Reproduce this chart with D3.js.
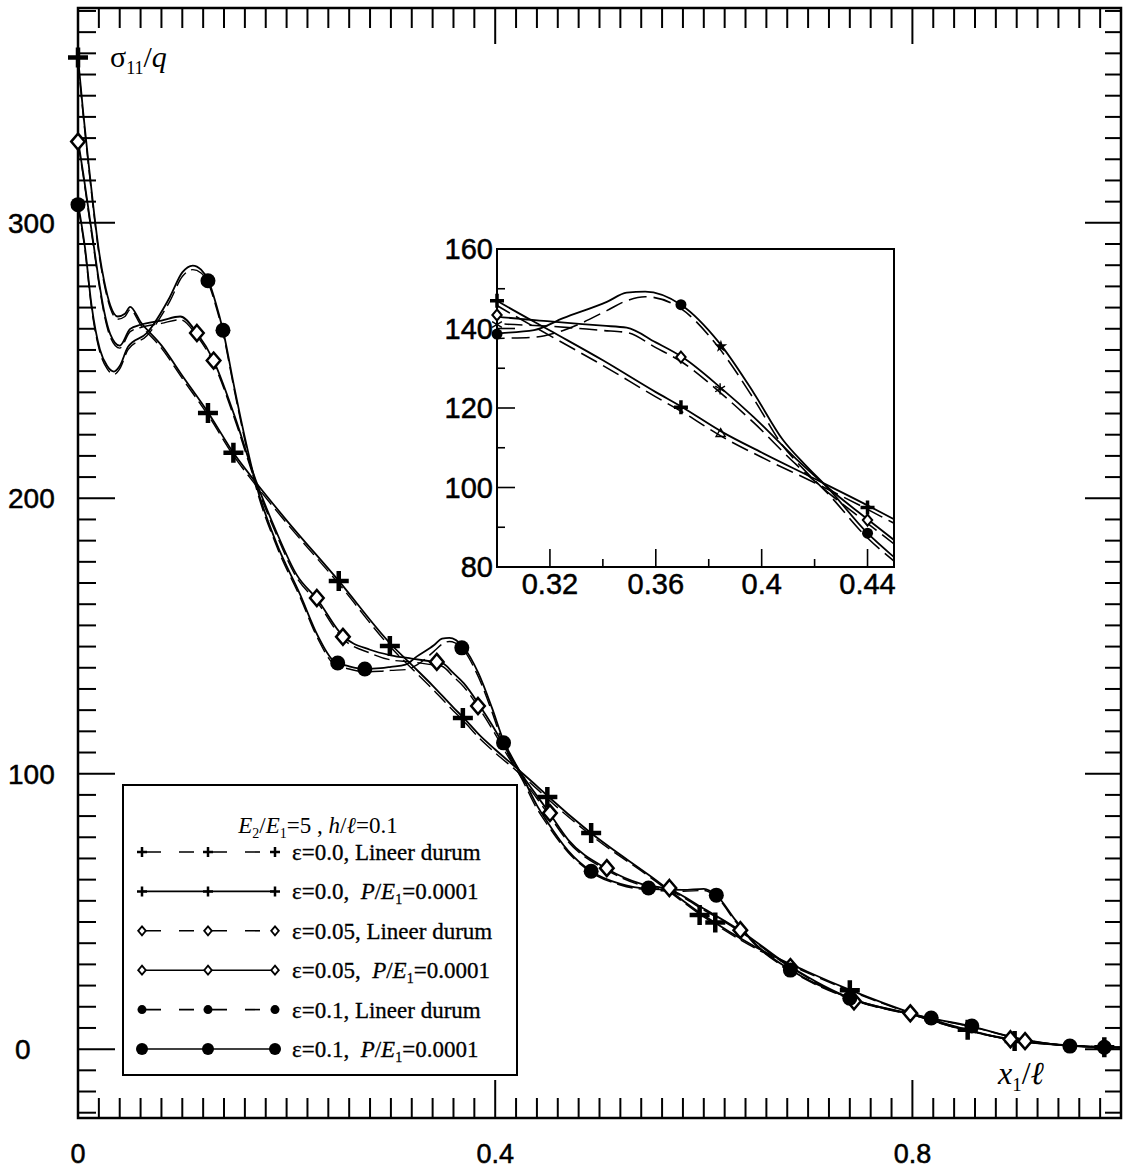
<!DOCTYPE html>
<html>
<head>
<meta charset="utf-8">
<script src="https://cdn.jsdelivr.net/npm/d3@7"></script>
<style>
  html, body { margin: 0; padding: 0; background: #fff; }
  svg { display: block; }
  text { white-space: pre; }
</style>
</head>
<body>
<svg id="chart" width="1130" height="1174"></svg>
<script>
// sigma11/q along x1/l, three eps values, linear (dashed) vs nonlinear (solid)

// ---------------------------------------------------------------
// Data
// ---------------------------------------------------------------
const eps0Nonlin = [
  [0, 360], [0.005, 340], [0.01, 322], [0.015, 305], [0.02, 290], [0.025, 279],
  [0.031, 270], [0.038, 266], [0.045, 267], [0.05, 269.5], [0.06, 264], [0.08, 255.5],
  [0.1, 244.5], [0.125, 231], [0.149, 216.5], [0.17, 206], [0.2, 192], [0.25, 170],
  [0.3, 147], [0.32, 139.5], [0.34, 132], [0.36, 124], [0.37, 120.2], [0.385, 114],
  [0.4, 108.8], [0.42, 102.2], [0.44, 95.5], [0.45, 92], [0.49, 79], [0.55, 62.5],
  [0.6, 48.5], [0.65, 37], [0.7, 28], [0.74, 21.5], [0.8, 13], [0.853, 7],
  [0.9, 3], [0.95, 1.3], [1.0, 0.6]
]
const eps0Lin = [
  [0, 359], [0.005, 339], [0.01, 321], [0.015, 304], [0.02, 289], [0.025, 278],
  [0.031, 269], [0.038, 265], [0.045, 266], [0.05, 268.5], [0.06, 263], [0.08, 254.5],
  [0.1, 243.5], [0.125, 230], [0.149, 215.5], [0.17, 205], [0.2, 191], [0.25, 169],
  [0.3, 145.8], [0.32, 138.2], [0.34, 130.7], [0.36, 122.8], [0.37, 119], [0.385, 112.8],
  [0.4, 107.6], [0.42, 101.2], [0.44, 94.5], [0.45, 91], [0.49, 78.2], [0.55, 62],
  [0.6, 48], [0.65, 36.5], [0.7, 27.6], [0.74, 21.2], [0.8, 12.8], [0.853, 6.9],
  [0.9, 3], [0.95, 1.3], [1.0, 0.6]
]
const eps05Nonlin = [
  [0, 330], [0.005, 318], [0.01, 305], [0.015, 292], [0.02, 279], [0.025, 268],
  [0.031, 259.5], [0.04, 255.4], [0.05, 261.5], [0.06, 263], [0.08, 264.5], [0.098, 266],
  [0.114, 260], [0.13, 250], [0.15, 230], [0.17, 207], [0.19, 188], [0.21, 172],
  [0.229, 163.5], [0.254, 150], [0.28, 145], [0.3, 143], [0.32, 141.8], [0.34, 140.7],
  [0.349, 140.2], [0.36, 136.5], [0.37, 132.8], [0.385, 124.8], [0.397, 117.7], [0.413, 107.2],
  [0.425, 100], [0.44, 92], [0.45, 86.8], [0.47, 76], [0.507, 65.5], [0.54, 60],
  [0.567, 58], [0.6, 51], [0.635, 43], [0.683, 30], [0.744, 18], [0.798, 12.8],
  [0.85, 7], [0.894, 3.6], [0.95, 1.4], [1.0, 0.6]
]
const eps05Lin = [
  [0, 329], [0.005, 317], [0.01, 304], [0.015, 291], [0.02, 278], [0.025, 267],
  [0.031, 258.5], [0.04, 254.5], [0.05, 260.5], [0.06, 262], [0.08, 263.5], [0.098, 264.8],
  [0.114, 259], [0.13, 249], [0.15, 229], [0.17, 206], [0.19, 187], [0.21, 171],
  [0.229, 162.5], [0.254, 149], [0.28, 143.8], [0.3, 141.3], [0.32, 140.6], [0.34, 139.5],
  [0.349, 139], [0.36, 135.2], [0.37, 131.5], [0.385, 123.5], [0.397, 116.3], [0.413, 105.8],
  [0.425, 98.8], [0.44, 91], [0.45, 85.8], [0.47, 75.3], [0.507, 65], [0.54, 59.5],
  [0.567, 57.5], [0.6, 50.5], [0.635, 42.6], [0.683, 29.7], [0.744, 17.8], [0.798, 12.6],
  [0.85, 6.9], [0.894, 3.5], [0.95, 1.4], [1.0, 0.6]
]
const eps1Nonlin = [
  [0, 307], [0.0067, 291], [0.013, 270], [0.021, 254], [0.028, 248], [0.0345, 246],
  [0.04, 248], [0.048, 255], [0.066, 260], [0.088, 273], [0.1, 282], [0.11, 284.5],
  [0.118, 283], [0.125, 279], [0.132, 271], [0.139, 261], [0.15, 240], [0.16, 222],
  [0.17, 206], [0.19, 184], [0.213, 165], [0.23, 150], [0.245, 141], [0.26, 139],
  [0.275, 138], [0.29, 138.3], [0.3, 138.8], [0.314, 139.6], [0.325, 142.6], [0.3415, 146.7],
  [0.349, 149], [0.356, 149.3], [0.3695, 146], [0.384, 136.4], [0.397, 123.8], [0.408, 112],
  [0.416, 106], [0.425, 99.9], [0.44, 88.5], [0.45, 82.5], [0.47, 72], [0.492, 64.6],
  [0.52, 60], [0.547, 58.2], [0.58, 57.8], [0.6, 58.2], [0.612, 55.9], [0.63, 47],
  [0.65, 38], [0.683, 28.8], [0.74, 18.5], [0.818, 11.2], [0.857, 8.2], [0.9, 4],
  [0.951, 1.2], [1.0, 0.6]
]
const eps1Lin = [
  [0, 306], [0.0067, 290], [0.013, 269], [0.021, 253], [0.028, 247], [0.0345, 245],
  [0.04, 247], [0.048, 254], [0.066, 259], [0.088, 271.5], [0.1, 280.5], [0.11, 283],
  [0.118, 281.8], [0.125, 278], [0.132, 270], [0.139, 260], [0.15, 239], [0.16, 221],
  [0.17, 205], [0.19, 183], [0.213, 164], [0.23, 149], [0.245, 140], [0.26, 138],
  [0.275, 137], [0.29, 137.2], [0.3, 137.5], [0.314, 137.8], [0.325, 139.5], [0.3415, 144.5],
  [0.349, 147], [0.356, 148], [0.3695, 145], [0.384, 135], [0.397, 122.3], [0.408, 110.5],
  [0.416, 104.5], [0.425, 98.5], [0.44, 87.3], [0.45, 81.5], [0.47, 71.4], [0.492, 64.2],
  [0.52, 59.6], [0.547, 57.8], [0.58, 57.3], [0.6, 57.6], [0.612, 55.3], [0.63, 46.5],
  [0.65, 37.6], [0.683, 28.5], [0.74, 18.3], [0.818, 11.1], [0.857, 8.1], [0.9, 4],
  [0.951, 1.2], [1.0, 0.6]
]

// marker positions in the main plot
const eps0Marks = [
  [0, 360], [0.1246, 231], [0.149, 216.5], [0.25, 170], [0.299, 146.4], [0.369, 120.2],
  [0.45, 91.5], [0.492, 78.5], [0.596, 48.7], [0.611, 46], [0.74, 21.4], [0.853, 7],
  [0.898, 3], [0.984, 0.7]
]
const eps05Marks = [
  [0, 329.5], [0.114, 260], [0.13, 250], [0.229, 163.8], [0.254, 149.7], [0.344, 140.6],
  [0.3835, 124.6], [0.4525, 85.7], [0.507, 65.7], [0.567, 58.5], [0.635, 43.2], [0.683, 29.8],
  [0.744, 17.4], [0.798, 13], [0.894, 3.6], [0.908, 2.9]
]
const eps1Marks = [
  [0, 306.6], [0.1246, 279], [0.139, 261], [0.249, 140.2], [0.275, 138], [0.368, 145.7],
  [0.408, 111.2], [0.492, 64.6], [0.547, 58.5], [0.612, 55.9], [0.683, 28.7], [0.74, 18.5],
  [0.818, 11.3], [0.857, 8.4], [0.951, 1.1], [0.984, 0.7]
]

// inset markers
const insetEps0Marks = [[0.3, 147], [0.3695, 120.2], [0.44, 95]]
const insetEps05Marks = [[0.3, 143.4], [0.3695, 132.8], [0.44, 91.8]]
const insetEps1Marks = [[0.3, 138.6], [0.3695, 146], [0.44, 88.5]]
const insetExtraMarks = [
  { type: 'tri', p: [0.3845, 113.5] },
  { type: 'ast', p: [0.3843, 124.8] },
  { type: 'star', p: [0.3846, 135.5] },
  { type: 'ast', p: [0.3, 141] }
]

// ticks
const xMajorTicks = [0, 0.4, 0.8]
const xMajorLabels = ['0', '0.4', '0.8']
const yMajorTicks = [0, 100, 200, 300]
const yMajorLabels = ['0', '100', '200', '300']
const insetXTicks = [0.32, 0.36, 0.4, 0.44]
const insetXLabels = ['0.32', '0.36', '0.4', '0.44']
const insetXMinor = [0.34, 0.38, 0.42]
const insetYTicks = [80, 100, 120, 140, 160]
const insetYMinor = [90, 110, 130, 150]

// legend
const legendEps = ['0.0', '0.0', '0.05', '0.05', '0.1', '0.1']
const legendLinear = [true, false, true, false, true, false]
const legendMarker = ['plus', 'plus', 'diamond', 'diamond', 'dot', 'dot']

// ---------------------------------------------------------------
// Setup
// ---------------------------------------------------------------
const SANS = '"Liberation Sans", Arial, sans-serif'
const SERIF = '"Liberation Serif", "Times New Roman", serif'

const svg = d3.select('#chart')
const x = d3.scaleLinear().domain([0, 1]).range([78, 1121])
const y = d3.scaleLinear().domain([-25, 378]).range([1118, 8])

const L = x.range()[0], R = x.range()[1]
const T = y.range()[1], B = y.range()[0]

svg.append('defs').append('clipPath').attr('id', 'mainClip')
  .append('rect').attr('x', L).attr('y', T).attr('width', R - L).attr('height', B - T)

// marker painters
function drawPlus(g, cx, cy, s, w) {
  g.append('path')
    .attr('d', `M${cx - s},${cy}H${cx + s}M${cx},${cy - s}V${cy + s}`)
    .attr('stroke', '#000').attr('stroke-width', w).attr('fill', 'none')
}
function drawDiamond(g, cx, cy, s, w) {
  g.append('path')
    .attr('d', `M${cx},${cy - s}L${cx + s * 0.85},${cy}L${cx},${cy + s}L${cx - s * 0.85},${cy}Z`)
    .attr('stroke', '#000').attr('stroke-width', w).attr('fill', '#fff')
}
function drawDot(g, cx, cy, r) {
  g.append('circle').attr('cx', cx).attr('cy', cy).attr('r', r).attr('fill', '#000')
}

// scanned text looks slightly heavy
function inked(sel, w) {
  return sel.attr('stroke', '#000').attr('stroke-width', w).attr('paint-order', 'stroke')
}

// ---------------------------------------------------------------
// Main frame and ticks
// ---------------------------------------------------------------
const gAxes = svg.append('g')

// x ticks every 0.02 (top and bottom)
d3.range(0, 51).map(i => i * 0.02).forEach(v => {
  const major = xMajorTicks.some(m => Math.abs(m - v) < 1e-9)
  const len = major ? 38 : 20
  gAxes.append('line')
    .attr('x1', x(v)).attr('x2', x(v)).attr('y1', B).attr('y2', B - len)
    .attr('stroke', '#000').attr('stroke-width', 2)
  gAxes.append('line')
    .attr('x1', x(v)).attr('x2', x(v)).attr('y1', T).attr('y2', T + (major ? 36 : 20))
    .attr('stroke', '#000').attr('stroke-width', 2)
})

// y ticks: 13 per hundred
d3.range(-3, 50).map(i => i * 100 / 13).forEach(v => {
  const major = yMajorTicks.some(m => Math.abs(m - v) < 1e-6)
  gAxes.append('line')
    .attr('x1', L).attr('x2', L + (major ? 37 : 18)).attr('y1', y(v)).attr('y2', y(v))
    .attr('stroke', '#000').attr('stroke-width', 2)
  gAxes.append('line')
    .attr('x1', R).attr('x2', R - (major ? 36 : 16)).attr('y1', y(v)).attr('y2', y(v))
    .attr('stroke', '#000').attr('stroke-width', 2)
})

gAxes.append('rect')
  .attr('x', L).attr('y', T).attr('width', R - L).attr('height', B - T)
  .attr('fill', 'none').attr('stroke', '#000').attr('stroke-width', 2.5)

// tick labels
xMajorTicks.forEach((v, i) => {
  inked(gAxes.append('text'), 0.5)
    .attr('x', x(v)).attr('y', 1163)
    .attr('text-anchor', 'middle')
    .style('font-family', SANS).style('font-size', '27px')
    .text(xMajorLabels[i])
})
yMajorTicks.forEach((v, i) => {
  inked(gAxes.append('text'), 0.5)
    .attr('x', i === 0 ? 15 : 8).attr('y', y(v) + 10)
    .style('font-family', SANS).style('font-size', '28px')
    .text(yMajorLabels[i])
})

// axis titles
const yTitle = svg.append('text').attr('x', 110).attr('y', 67)
  .style('font-family', SERIF).style('font-size', '30px')
yTitle.append('tspan').text('σ')
yTitle.append('tspan').attr('dy', 7).style('font-size', '18px').text('11')
yTitle.append('tspan').attr('dy', -7).text('/')
yTitle.append('tspan').style('font-style', 'italic').text('q')

const xTitle = svg.append('text').attr('x', 998).attr('y', 1084)
  .style('font-family', SERIF).style('font-size', '32px').style('font-style', 'italic')
xTitle.append('tspan').text('x')
xTitle.append('tspan').attr('dy', 7).style('font-size', '19px').style('font-style', 'normal').text('1')
xTitle.append('tspan').attr('dy', -7).style('font-style', 'normal').text('/')
xTitle.append('tspan').text('ℓ')

// ---------------------------------------------------------------
// Curves (main)
// ---------------------------------------------------------------
const series = [
  { data: eps0Lin, dashed: true }, { data: eps0Nonlin, dashed: false },
  { data: eps05Lin, dashed: true }, { data: eps05Nonlin, dashed: false },
  { data: eps1Lin, dashed: true }, { data: eps1Nonlin, dashed: false }
]

const gMain = svg.append('g').attr('clip-path', 'url(#mainClip)')
const lineMain = d3.line().x(d => x(d[0])).y(d => y(d[1])).curve(d3.curveMonotoneX)
series.forEach(s => {
  gMain.append('path')
    .attr('d', lineMain(s.data))
    .attr('fill', 'none').attr('stroke', '#000')
    .attr('stroke-width', s.dashed ? 1.4 : 1.8)
    .attr('stroke-dasharray', s.dashed ? '16,6' : null)
})

const gMarks = svg.append('g')
eps0Marks.forEach(d => drawPlus(gMarks, x(d[0]), y(d[1]), 10, 4.5))
eps05Marks.forEach(d => drawDiamond(gMarks, x(d[0]), y(d[1]), 8, 2.5))
eps1Marks.forEach(d => drawDot(gMarks, x(d[0]), y(d[1]), 7.5))

// ---------------------------------------------------------------
// Inset
// ---------------------------------------------------------------
const xi = d3.scaleLinear().domain([0.3, 0.45]).range([497, 894])
const yi = d3.scaleLinear().domain([80, 160]).range([567, 249])
const iL = xi.range()[0], iR = xi.range()[1], iT = yi.range()[1], iB = yi.range()[0]

svg.select('defs').append('clipPath').attr('id', 'insetClip')
  .append('rect').attr('x', iL).attr('y', iT).attr('width', iR - iL).attr('height', iB - iT)

const gInset = svg.append('g')
gInset.append('rect')
  .attr('x', iL).attr('y', iT).attr('width', iR - iL).attr('height', iB - iT)
  .attr('fill', '#fff')

const gInsetLines = gInset.append('g').attr('clip-path', 'url(#insetClip)')
const lineInset = d3.line().x(d => xi(d[0])).y(d => yi(d[1])).curve(d3.curveMonotoneX)
series.forEach(s => {
  gInsetLines.append('path')
    .attr('d', lineInset(s.data))
    .attr('fill', 'none').attr('stroke', '#000')
    .attr('stroke-width', s.dashed ? 1.6 : 1.8)
    .attr('stroke-dasharray', s.dashed ? '18,7' : null)
})

// inset ticks
insetXTicks.forEach(v => {
  gInset.append('line').attr('x1', xi(v)).attr('x2', xi(v)).attr('y1', iB).attr('y2', iB - 18)
    .attr('stroke', '#000').attr('stroke-width', 1.6)
})
insetXMinor.forEach(v => {
  gInset.append('line').attr('x1', xi(v)).attr('x2', xi(v)).attr('y1', iB).attr('y2', iB - 8)
    .attr('stroke', '#000').attr('stroke-width', 1.6)
})
insetYTicks.forEach(v => {
  gInset.append('line').attr('x1', iL).attr('x2', iL + 18).attr('y1', yi(v)).attr('y2', yi(v))
    .attr('stroke', '#000').attr('stroke-width', 1.6)
})
insetYMinor.forEach(v => {
  gInset.append('line').attr('x1', iL).attr('x2', iL + 8).attr('y1', yi(v)).attr('y2', yi(v))
    .attr('stroke', '#000').attr('stroke-width', 1.6)
})

gInset.append('rect')
  .attr('x', iL).attr('y', iT).attr('width', iR - iL).attr('height', iB - iT)
  .attr('fill', 'none').attr('stroke', '#000').attr('stroke-width', 2)

insetXTicks.forEach((v, i) => {
  inked(gInset.append('text'), 0.5).attr('x', xi(v)).attr('y', 594)
    .attr('text-anchor', 'middle')
    .style('font-family', SANS).style('font-size', '29px')
    .text(insetXLabels[i])
})
insetYTicks.forEach(v => {
  inked(gInset.append('text'), 0.5).attr('x', iL - 4).attr('y', yi(v) + 10)
    .attr('text-anchor', 'end')
    .style('font-family', SANS).style('font-size', '29px')
    .text(v)
})

// inset markers
insetEps0Marks.forEach(d => drawPlus(gInset, xi(d[0]), yi(d[1]), 7, 3.5))
insetEps05Marks.forEach(d => drawDiamond(gInset, xi(d[0]), yi(d[1]), 5.5, 2))
insetEps1Marks.forEach(d => drawDot(gInset, xi(d[0]), yi(d[1]), 5.5))
insetExtraMarks.forEach(m => {
  const cx = xi(m.p[0]), cy = yi(m.p[1])
  if (m.type === 'tri') {
    gInset.append('path').attr('d', d3.symbol(d3.symbolTriangle2, 60)())
      .attr('transform', `translate(${cx},${cy})`)
      .attr('fill', 'none').attr('stroke', '#000').attr('stroke-width', 1.4)
  } else if (m.type === 'ast') {
    gInset.append('path').attr('d', d3.symbol(d3.symbolAsterisk, 90)())
      .attr('transform', `translate(${cx},${cy})`)
      .attr('fill', 'none').attr('stroke', '#000').attr('stroke-width', 1.4)
  } else {
    gInset.append('path').attr('d', d3.symbol(d3.symbolStar, 50)())
      .attr('transform', `translate(${cx},${cy})`)
      .attr('fill', '#000')
  }
})

// ---------------------------------------------------------------
// Legend
// ---------------------------------------------------------------
const gLeg = svg.append('g')
gLeg.append('rect')
  .attr('x', 123).attr('y', 785).attr('width', 394).attr('height', 290)
  .attr('fill', '#fff').attr('stroke', '#000').attr('stroke-width', 2)

const legTitle = gLeg.append('text').attr('x', 318).attr('y', 833)
  .attr('text-anchor', 'middle')
  .style('font-family', SERIF).style('font-size', '23px')
legTitle.append('tspan').style('font-style', 'italic').text('E')
legTitle.append('tspan').attr('dy', 5).style('font-size', '14px').text('2')
legTitle.append('tspan').attr('dy', -5).text('/')
legTitle.append('tspan').style('font-style', 'italic').text('E')
legTitle.append('tspan').attr('dy', 5).style('font-size', '14px').text('1')
legTitle.append('tspan').attr('dy', -5).text('=5 , ')
legTitle.append('tspan').style('font-style', 'italic').text('h')
legTitle.append('tspan').text('/')
legTitle.append('tspan').style('font-style', 'italic').text('ℓ')
legTitle.append('tspan').text('=0.1')

const legX = [142, 208, 275]
legendEps.forEach((eps, i) => {
  const cy = 852 + i * 39.4
  gLeg.append('line')
    .attr('x1', legX[0]).attr('x2', legX[2]).attr('y1', cy).attr('y2', cy)
    .attr('stroke', '#000').attr('stroke-width', 1.6)
    .attr('stroke-dasharray', legendLinear[i] ? '15,18' : null)
    .attr('stroke-dashoffset', legendLinear[i] ? -4 : null)
  legX.forEach(mx => {
    if (legendMarker[i] === 'plus') drawPlus(gLeg, mx, cy, 5, 2.5)
    else if (legendMarker[i] === 'diamond') drawDiamond(gLeg, mx, cy, 4.5, 1.8)
    else drawDot(gLeg, mx, cy, legendLinear[i] ? 4.5 : 6)
  })
  const t = inked(gLeg.append('text'), 0.3).attr('x', 292).attr('y', cy + 8)
    .style('font-family', SERIF).style('font-size', '23px')
  if (legendLinear[i]) {
    t.append('tspan').text(`ε=${eps}, Lineer durum`)
  } else {
    t.append('tspan').text(`ε=${eps},  `)
    t.append('tspan').style('font-style', 'italic').text('P')
    t.append('tspan').text('/')
    t.append('tspan').style('font-style', 'italic').text('E')
    t.append('tspan').attr('dy', 5).style('font-size', '14px').text('1')
    t.append('tspan').attr('dy', -5).text('=0.0001')
  }
})
</script>
</body>
</html>
